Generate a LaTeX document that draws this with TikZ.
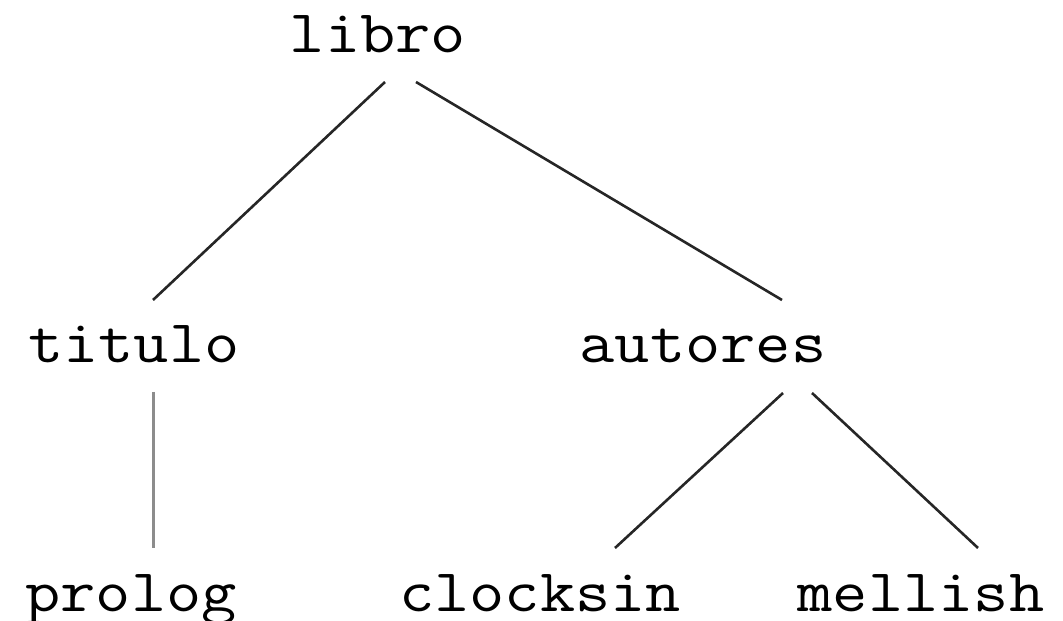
\documentclass[tikz,border=0pt]{standalone}
\usepackage{fontspec}
\newfontfamily\treefont[FakeStretch=1.13]{Latin Modern Mono}
\begin{document}
\begin{tikzpicture}[x=1pt,y=1pt,
  word/.style={inner sep=0pt,anchor=base,font=\treefont\fontsize{60.5}{60.5}\selectfont},
  edge/.style={line width=2.6pt,draw=black!85},
  pale/.style={line width=3pt,draw=black!45}]
\useasboundingbox (0,0) rectangle (1063,621);
\node[word] (libro)    at (378,568) {libro};
\node[word] (titulo)   at (134,258) {titulo};
\node[word] (autores)  at (703,258) {autores};
\node[word] (prolog)   at (131,9)   {prolog};
\node[word] (clocksin) at (540,9)   {clocksin};
\node[word] (mellish)  at (921,9)   {mellish};
\draw[edge] ([shift={(7,-29)}]libro.base)  -- ([shift={(19,63)}]titulo.base);
\draw[edge] ([shift={(38,-29)}]libro.base) -- ([shift={(79,63)}]autores.base);
\draw[pale] ([shift={(19,-29)}]titulo.base) -- ([shift={(22,64)}]prolog.base);
\draw[edge] ([shift={(80,-30)}]autores.base)  -- ([shift={(75,64)}]clocksin.base);
\draw[edge] ([shift={(109,-30)}]autores.base) -- ([shift={(57,64)}]mellish.base);
\end{tikzpicture}
\end{document}
